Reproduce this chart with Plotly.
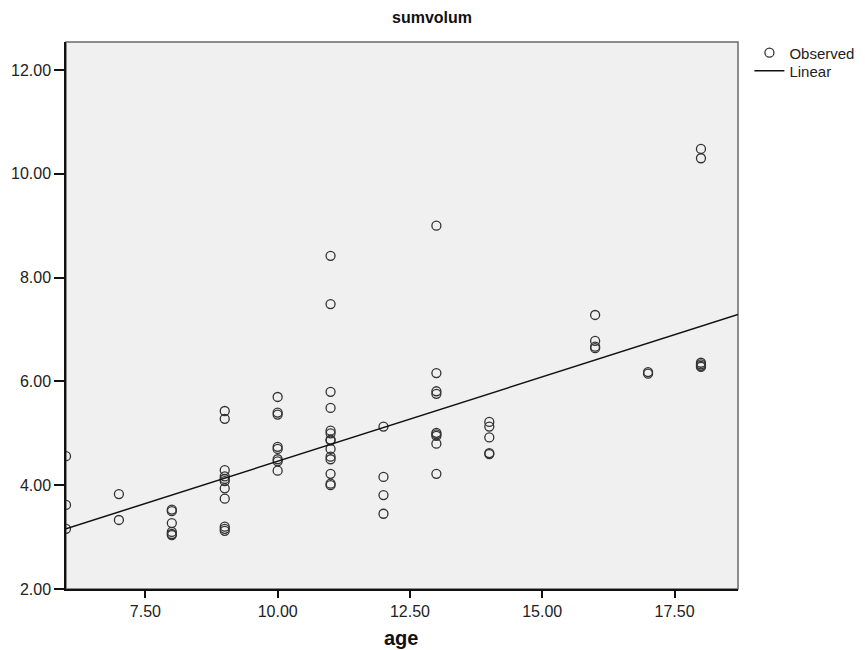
import plotly.graph_objects as go

age = (
    [6, 6, 6]
    + [7, 7]
    + [8, 8, 8, 8, 8, 8]
    + [9] * 11
    + [10] * 8
    + [11] * 14
    + [12] * 4
    + [13] * 9
    + [14] * 5
    + [16] * 4
    + [17] * 2
    + [18] * 6
)
sumvolum = (
    [4.56, 3.62, 3.16]
    + [3.83, 3.33]
    + [3.53, 3.50, 3.27, 3.10, 3.06, 3.04]
    + [5.43, 5.28, 4.29, 4.17, 4.12, 4.08, 3.94, 3.74, 3.20, 3.16, 3.12]
    + [5.70, 5.40, 5.36, 4.74, 4.70, 4.50, 4.46, 4.28]
    + [8.42, 7.49, 5.80, 5.49, 5.05, 5.00, 4.88, 4.86, 4.70, 4.55, 4.50, 4.22, 4.03, 4.00]
    + [5.13, 4.16, 3.81, 3.45]
    + [9.00, 6.16, 5.81, 5.76, 5.01, 4.98, 4.95, 4.80, 4.22]
    + [5.22, 5.13, 4.92, 4.62, 4.60]
    + [7.28, 6.78, 6.67, 6.64]
    + [6.18, 6.15]
    + [10.48, 10.30, 6.36, 6.33, 6.30, 6.28]
)

# Linear fit as drawn in the chart
fit_intercept = 1.209
fit_slope = 0.3252

x_ticks = [7.5, 10.0, 12.5, 15.0, 17.5]
y_ticks = [2.0, 4.0, 6.0, 8.0, 10.0, 12.0]
x_range = [6.0, 18.7]
y_range = [2.0, 12.54]

fit_x = list(x_range)
fit_y = [fit_intercept + fit_slope * v for v in fit_x]

FONT = "Liberation Sans, Arial, sans-serif"

fig = go.Figure()
fig.add_trace(go.Scatter(
    x=age, y=sumvolum, mode="markers", name="Observed", legend="legend",
    marker=dict(symbol="circle-open", size=9, color="#333333",
                line=dict(width=1.3, color="#333333")),
))
fig.add_trace(go.Scatter(
    x=fit_x, y=fit_y, mode="lines", name="Linear", legend="legend2",
    line=dict(color="#111111", width=1.5),
))

# gray frame on top/right
fig.add_shape(type="rect", xref="paper", yref="paper", x0=0, y0=0, x1=1, y1=1,
              line=dict(color="#6a6a6a", width=1.5), layer="below")

leg_common = dict(
    xanchor="left", yanchor="middle", bgcolor="rgba(0,0,0,0)",
    font=dict(family=FONT, size=15, color="#222222"), itemwidth=30,
)

fig.update_layout(
    width=865, height=650,
    margin=dict(l=58, r=135, t=34, b=69, autoexpand=False),
    paper_bgcolor="white",
    plot_bgcolor="#F0F0F0",
    font=dict(family=FONT, size=16, color="#222222"),
    showlegend=True,
    legend=dict(x=1.017, y=0.980, **leg_common),
    legend2=dict(x=1.017, y=0.947, **leg_common),
    annotations=[
        dict(text="<b>sumvolum</b>", xref="paper", yref="paper", x=0.545, y=1.044,
             xanchor="center", yanchor="middle", showarrow=False,
             font=dict(family=FONT, size=16, color="#111111")),
        dict(text="<b>age</b>", xref="paper", yref="paper", x=0.499, y=-0.0896,
             xanchor="center", yanchor="middle", showarrow=False,
             font=dict(family=FONT, size=20, color="#111111")),
    ],
)
fig.update_xaxes(
    range=x_range, tickvals=x_ticks, tickformat=".2f", automargin=False,
    showgrid=False, zeroline=False,
    showline=True, linecolor="#111111", linewidth=1.5,
    ticks="outside", ticklen=7, tickwidth=1.5, tickcolor="#111111",
)
fig.update_yaxes(
    range=y_range, tickvals=y_ticks, tickformat=".2f", automargin=False,
    showgrid=False, zeroline=False,
    showline=True, linecolor="#111111", linewidth=1.5,
    ticks="outside", ticklen=10, tickwidth=1.5, tickcolor="#111111",
)

fig.write_html("out.html")
